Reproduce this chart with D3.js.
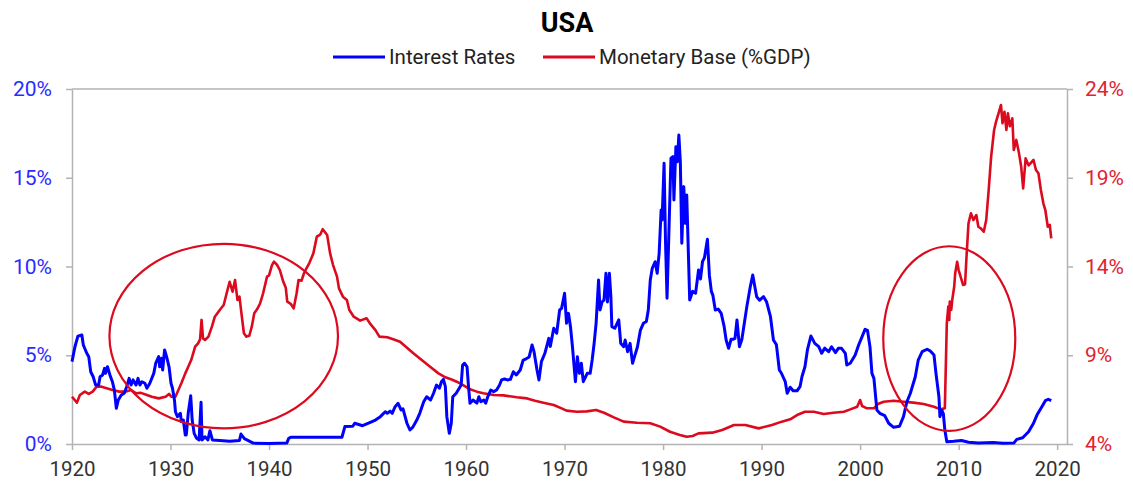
<!DOCTYPE html>
<html>
<head>
<meta charset="utf-8">
<script src="https://cdn.jsdelivr.net/npm/d3@7"></script>
<style>
  body { margin: 0; background: #fff; }
  text { font-family: Roboto, "Open Sans", sans-serif; }
</style>
</head>
<body>
<svg id="chart" width="1133" height="485"></svg>
<script>
// Interest rates, % (left axis)
const interestRates = [
  [1920.0,4.64],[1920.3,5.48],[1920.6,6.08],[1921.0,6.14],[1921.15,5.58],[1921.5,5.11],[1921.7,4.92],[1921.9,4.07],
  [1922.15,3.79],[1922.4,3.32],[1922.7,3.32],[1922.85,3.79],[1923.1,3.89],[1923.3,4.26],[1923.4,3.98],[1923.6,4.35],
  [1923.85,3.89],[1924.1,3.51],[1924.3,3.04],[1924.5,2.01],[1924.7,2.48],[1925.0,2.76],[1925.3,2.86],[1925.55,3.23],
  [1925.8,3.70],[1926.0,3.32],[1926.2,3.61],[1926.5,3.32],[1926.7,3.70],[1926.9,3.32],[1927.1,3.51],[1927.4,3.42],
  [1927.6,3.14],[1927.9,3.42],[1928.3,3.98],[1928.5,4.55],[1928.8,4.92],[1928.9,4.35],[1929.1,4.83],[1929.2,4.17],
  [1929.4,5.30],[1929.6,4.92],[1929.85,4.35],[1930.05,3.42],[1930.2,3.14],[1930.4,2.48],[1930.5,1.82],[1930.7,1.54],
  [1931.0,1.73],[1931.1,1.26],[1931.3,1.35],[1931.5,0.51],[1931.6,0.51],[1931.8,1.75],[1932.05,2.72],[1932.2,1.35],
  [1932.4,0.60],[1932.65,0.32],[1932.9,0.23],[1933.1,2.35],[1933.2,0.23],[1933.5,0.41],[1933.8,0.23],[1934.0,0.75],
  [1934.25,0.23],[1935.0,0.20],[1936.0,0.15],[1937.0,0.20],[1937.15,0.56],[1937.5,0.30],[1938.4,0.05],[1940.0,0.03],
  [1941.8,0.05],[1942.0,0.32],[1942.2,0.38],[1947.4,0.38],[1947.7,0.98],[1948.5,1.00],[1948.7,1.17],[1949.5,1.03],
  [1950.1,1.17],[1950.8,1.35],[1951.3,1.54],[1951.8,1.82],[1952.0,1.73],[1952.3,1.85],[1952.5,1.73],[1952.8,2.10],
  [1953.1,2.29],[1953.4,1.92],[1953.6,1.98],[1954.0,1.17],[1954.3,0.79],[1954.6,0.95],[1955.0,1.35],[1955.3,1.73],
  [1955.7,2.38],[1956.0,2.66],[1956.4,2.48],[1956.7,2.86],[1957.0,3.32],[1957.3,3.14],[1957.5,3.51],[1957.7,3.64],
  [1957.9,3.23],[1958.05,1.54],[1958.3,0.60],[1958.5,1.17],[1958.65,2.66],[1959.0,2.86],[1959.2,3.04],[1959.5,3.32],
  [1959.65,4.45],[1959.85,4.55],[1960.1,4.35],[1960.25,3.23],[1960.4,2.29],[1960.7,2.48],[1961.1,2.30],[1961.3,2.66],
  [1961.5,2.38],[1961.8,2.48],[1962.0,2.30],[1962.2,2.66],[1962.5,3.04],[1962.8,2.95],[1963.1,3.04],[1963.4,3.32],
  [1963.6,3.61],[1963.9,3.66],[1964.2,3.61],[1964.5,3.64],[1964.8,4.07],[1965.1,3.89],[1965.5,4.17],[1965.8,4.73],
  [1966.1,4.80],[1966.4,4.90],[1966.7,5.58],[1966.9,5.20],[1967.2,4.17],[1967.4,3.61],[1967.65,4.64],[1968.0,5.11],
  [1968.4,5.95],[1968.55,5.50],[1968.9,6.52],[1969.2,6.24],[1969.5,7.55],[1969.7,7.64],[1970.0,8.49],[1970.2,6.80],
  [1970.4,7.36],[1970.6,6.61],[1970.8,5.48],[1971.1,3.51],[1971.3,4.92],[1971.5,3.98],[1971.7,4.55],[1971.9,3.51],
  [1972.3,3.98],[1972.6,3.98],[1972.8,4.73],[1973.0,5.67],[1973.2,6.80],[1973.45,9.24],[1973.6,7.55],[1973.8,8.00],
  [1974.0,8.10],[1974.2,9.62],[1974.35,8.00],[1974.55,9.62],[1974.7,8.30],[1974.8,6.61],[1975.1,6.52],[1975.5,6.99],
  [1975.7,5.67],[1976.0,5.48],[1976.15,5.86],[1976.4,5.20],[1976.65,5.67],[1976.9,4.55],[1977.1,4.92],[1977.4,5.48],
  [1977.7,6.42],[1978.0,6.80],[1978.3,6.90],[1978.5,7.55],[1978.7,9.24],[1978.9,9.90],[1979.2,10.27],[1979.4,9.62],
  [1979.6,10.74],[1979.8,13.18],[1979.9,12.62],[1980.1,15.81],[1980.25,11.31],[1980.4,8.21],[1980.55,11.12],
  [1980.8,16.10],[1981.0,16.19],[1981.1,13.75],[1981.3,16.75],[1981.45,15.90],[1981.6,17.41],[1981.75,15.90],
  [1981.9,11.31],[1982.1,14.50],[1982.25,12.43],[1982.4,14.03],[1982.7,8.11],[1983.0,8.60],[1983.3,8.50],
  [1983.6,9.80],[1983.8,9.30],[1984.0,10.27],[1984.2,10.50],[1984.5,11.53],[1984.7,9.50],[1984.9,8.60],[1985.05,8.39],
  [1985.3,7.55],[1985.6,7.60],[1985.9,7.36],[1986.2,6.61],[1986.4,5.86],[1986.65,5.39],[1986.9,5.90],[1987.1,5.90],
  [1987.3,5.95],[1987.5,6.99],[1987.75,5.48],[1988.0,5.90],[1988.5,7.74],[1988.85,8.86],[1989.1,9.52],[1989.3,8.90],
  [1989.5,8.30],[1989.8,8.10],[1990.2,8.30],[1990.5,8.02],[1990.9,7.17],[1991.2,5.86],[1991.5,5.60],[1991.8,4.17],
  [1992.0,4.00],[1992.4,3.51],[1992.6,2.86],[1992.9,3.20],[1993.2,3.00],[1993.6,3.00],[1993.9,3.23],[1994.1,3.80],
  [1994.4,4.35],[1994.65,5.30],[1995.0,6.08],[1995.4,5.67],[1995.8,5.48],[1996.1,5.11],[1996.4,5.40],[1996.8,5.20],
  [1997.1,5.48],[1997.5,5.15],[1997.8,5.40],[1998.1,5.40],[1998.5,5.11],[1998.65,4.45],[1999.0,4.55],[1999.5,5.01],
  [1999.85,5.58],[2000.2,6.05],[2000.5,6.46],[2000.75,6.40],[2001.0,5.48],[2001.2,3.98],[2001.4,3.70],[2001.7,1.92],
  [2002.0,1.73],[2002.5,1.60],[2002.9,1.17],[2003.4,0.94],[2004.0,1.00],[2004.4,1.54],[2004.75,2.38],[2005.1,2.86],
  [2005.6,3.79],[2005.9,4.73],[2006.3,5.20],[2006.8,5.34],[2007.1,5.25],[2007.5,5.01],[2007.7,3.98],[2008.0,2.66],
  [2008.1,1.54],[2008.3,1.90],[2008.45,1.70],[2008.6,0.79],[2008.8,0.13],[2009.5,0.15],[2010.3,0.20],[2011.0,0.10],
  [2012.0,0.05],[2013.5,0.08],[2014.5,0.04],[2015.6,0.05],[2015.9,0.26],[2016.5,0.35],[2017.1,0.69],[2017.6,1.17],
  [2017.95,1.63],[2018.45,2.10],[2018.8,2.44],[2019.1,2.52],[2019.4,2.44]
];

// Monetary base, % of GDP (right axis)
const monetaryBase = [
  [1920.0,6.66],[1920.5,6.33],[1920.8,6.76],[1921.3,6.95],[1921.7,6.82],[1922.1,6.95],[1922.5,7.23],[1923.0,7.23],
  [1923.6,7.13],[1924.1,7.04],[1924.8,6.95],[1925.4,6.95],[1926.0,7.04],[1926.5,6.86],[1927.0,6.88],[1927.6,6.76],
  [1928.1,6.66],[1928.8,6.57],[1929.5,6.66],[1929.85,6.82],[1930.1,6.66],[1930.5,6.66],[1930.8,7.04],[1931.1,7.42],
  [1931.5,7.98],[1931.8,8.35],[1932.1,8.73],[1932.5,9.48],[1932.8,9.67],[1933.0,9.90],[1933.15,10.99],[1933.3,9.95],
  [1933.5,9.86],[1933.85,10.05],[1934.2,10.61],[1934.5,11.17],[1935.0,11.55],[1935.4,11.83],[1935.7,12.49],
  [1936.0,13.14],[1936.3,12.58],[1936.55,13.24],[1936.8,12.11],[1937.0,12.30],[1937.2,11.36],[1937.45,10.24],
  [1937.7,10.05],[1938.0,10.10],[1938.25,10.61],[1938.5,11.36],[1938.8,11.60],[1939.1,11.93],[1939.4,12.49],
  [1939.8,13.43],[1940.0,13.50],[1940.3,14.08],[1940.5,14.27],[1940.8,14.10],[1941.1,13.80],[1941.45,13.14],
  [1941.7,12.80],[1941.85,12.02],[1942.2,11.90],[1942.5,11.64],[1942.8,12.49],[1943.0,13.24],[1943.3,13.20],
  [1943.55,13.62],[1943.8,13.90],[1944.1,14.21],[1944.5,14.74],[1944.85,15.68],[1945.2,15.80],[1945.45,16.10],
  [1945.9,15.77],[1946.2,14.74],[1946.5,14.08],[1946.9,13.43],[1947.1,12.77],[1947.5,12.30],[1947.9,12.11],
  [1948.15,11.55],[1948.6,11.17],[1949.25,10.95],[1949.9,11.08],[1950.3,10.75],[1950.8,10.42],[1951.2,10.05],
  [1952.0,10.01],[1952.6,9.90],[1953.3,9.76],[1953.8,9.52],[1954.65,9.11],[1955.5,8.73],[1956.35,8.35],[1957.2,7.98],
  [1957.9,7.76],[1958.6,7.62],[1959.05,7.51],[1959.7,7.32],[1960.4,7.08],[1961.1,6.95],[1961.75,6.86],[1962.8,6.76],
  [1963.8,6.74],[1965.15,6.63],[1966.2,6.57],[1967.0,6.44],[1967.85,6.33],[1968.9,6.20],[1969.7,6.01],[1970.2,5.88],
  [1971.25,5.82],[1972.25,5.84],[1973.2,5.92],[1974.0,5.76],[1975.0,5.50],[1976.0,5.26],[1977.35,5.20],[1978.7,5.17],
  [1979.7,4.98],[1980.7,4.69],[1981.7,4.51],[1982.4,4.41],[1983.0,4.45],[1983.6,4.60],[1985.0,4.64],[1986.0,4.79],
  [1987.2,5.07],[1988.35,5.07],[1989.7,4.88],[1991.05,5.07],[1992.05,5.26],[1992.9,5.39],[1993.6,5.63],[1994.4,5.82],
  [1995.3,5.82],[1996.3,5.69],[1997.3,5.76],[1998.35,5.82],[1999.0,5.95],[1999.7,6.10],[2000.0,6.48],[2000.2,6.14],
  [2000.7,6.01],[2001.4,6.01],[2001.8,6.25],[2002.4,6.38],[2003.4,6.44],[2004.4,6.38],[2005.4,6.33],[2006.45,6.25],
  [2007.5,6.10],[2008.15,5.95],[2008.6,6.01],[2008.8,10.80],[2008.95,11.74],[2009.05,10.99],[2009.1,12.02],
  [2009.25,11.55],[2009.35,12.11],[2009.55,12.86],[2009.65,13.62],[2009.85,14.27],[2010.0,13.80],[2010.2,13.43],
  [2010.45,12.96],[2010.65,13.00],[2010.8,14.55],[2011.0,16.43],[2011.25,17.00],[2011.5,16.62],[2011.8,16.90],
  [2012.0,16.24],[2012.25,16.15],[2012.55,15.96],[2012.8,16.62],[2013.05,18.31],[2013.3,20.19],[2013.6,21.69],
  [2013.8,22.16],[2014.05,22.63],[2014.3,23.10],[2014.45,22.07],[2014.65,22.72],[2014.85,21.69],[2015.0,22.63],
  [2015.2,21.90],[2015.45,22.35],[2015.6,20.56],[2015.85,21.13],[2016.1,20.47],[2016.35,19.62],[2016.55,18.40],
  [2016.8,20.09],[2017.1,19.70],[2017.6,20.00],[2017.85,19.44],[2018.1,19.25],[2018.35,18.31],[2018.6,17.56],
  [2018.8,17.18],[2019.05,16.24],[2019.25,16.34],[2019.4,15.59]
];

const yearTicks = [1920, 1930, 1940, 1950, 1960, 1970, 1980, 1990, 2000, 2010, 2020];
const leftTicks = [0, 5, 10, 15, 20];
const rightTicks = [4, 9, 14, 19, 24];
const seriesNames = ['Interest Rates', 'Monetary Base (%GDP)'];

// annotation ellipses: centre (year, left-axis %), radii in years and %
const ellipses = [
  { year: 1935.4, value: 6.08, rYears: 11.6, rValue: 5.2 },
  { year: 2009.05, value: 5.94, rYears: 6.7, rValue: 5.2 }
];

const blue = '#0000ff';
const red = '#dc0a1e';
const grey = '#b3b3b3';

const svg = d3.select('#chart');
const margin = { top: 89, right: 66, bottom: 41, left: 72 };
const width = +svg.attr('width');
const height = +svg.attr('height');
const innerWidth = width - margin.left - margin.right;
const innerHeight = height - margin.top - margin.bottom;

const x = d3.scaleLinear().domain([1920, 2021]).range([0, innerWidth]);
const yLeft = d3.scaleLinear().domain([0, 20]).range([innerHeight, 0]);
const yRight = d3.scaleLinear().domain([4, 24]).range([innerHeight, 0]);

// title + legend
svg.append('text')
  .attr('x', 567).attr('y', 32)
  .attr('text-anchor', 'middle')
  .style('font-size', '27px').style('font-weight', 'bold')
  .text('USA');

const legend = svg.append('g');
const legendItems = [
  { name: seriesNames[0], color: blue, x: 333 },
  { name: seriesNames[1], color: red, x: 543 }
];
legendItems.forEach(d => {
  legend.append('line')
    .attr('x1', d.x).attr('x2', d.x + 52)
    .attr('y1', 57).attr('y2', 57)
    .attr('stroke', d.color).attr('stroke-width', 3);
  legend.append('text')
    .attr('x', d.x + 56).attr('y', 64)
    .style('font-size', '20.5px').attr('fill', '#222')
    .text(d.name);
});

const chart = svg.append('g')
  .attr('transform', `translate(${margin.left},${margin.top})`);

// frame
chart.append('line')
  .attr('x1', 0).attr('x2', innerWidth).attr('y1', 0).attr('y2', 0)
  .attr('stroke', grey).attr('stroke-width', 1.5);

const xAxis = d3.axisBottom(x).tickValues(yearTicks).tickFormat(d3.format('d'))
  .tickSizeInner(6).tickSizeOuter(0).tickPadding(11);
const xAxisG = chart.append('g')
  .attr('transform', `translate(0,${innerHeight})`)
  .call(xAxis);
xAxisG.selectAll('text').attr('fill', '#333').style('font-size', '20.5px');

const leftAxis = d3.axisLeft(yLeft).tickValues(leftTicks).tickFormat(d => d + '%')
  .tickSizeInner(6).tickSizeOuter(0).tickPadding(14);
const leftG = chart.append('g').call(leftAxis);
leftG.selectAll('text').attr('fill', '#2b2bff').style('font-size', '21px');

const rightAxis = d3.axisRight(yRight).tickValues(rightTicks).tickFormat(d => d + '%')
  .tickSizeInner(6).tickSizeOuter(0).tickPadding(12);
const rightG = chart.append('g')
  .attr('transform', `translate(${innerWidth},0)`)
  .call(rightAxis);
rightG.selectAll('text').attr('fill', '#e2222e').style('font-size', '21px');

[xAxisG, leftG, rightG].forEach(g => {
  g.selectAll('path, line').attr('stroke', grey).attr('stroke-width', 1.5);
  g.select('.domain').attr('stroke', grey);
});

// lines
const rateLine = d3.line().x(d => x(d[0])).y(d => yLeft(d[1]));
const baseLine = d3.line().x(d => x(d[0])).y(d => yRight(d[1]));

chart.append('path')
  .datum(monetaryBase)
  .attr('d', baseLine)
  .attr('fill', 'none').attr('stroke', red)
  .attr('stroke-width', 2.6).attr('stroke-linejoin', 'round');

chart.append('path')
  .datum(interestRates)
  .attr('d', rateLine)
  .attr('fill', 'none').attr('stroke', blue)
  .attr('stroke-width', 3).attr('stroke-linejoin', 'round');

// annotation ellipses
chart.selectAll('ellipse')
  .data(ellipses)
  .enter().append('ellipse')
  .attr('cx', d => x(d.year))
  .attr('cy', d => yLeft(d.value))
  .attr('rx', d => x(d.year + d.rYears) - x(d.year))
  .attr('ry', d => yLeft(0) - yLeft(d.rValue))
  .attr('fill', 'none').attr('stroke', red).attr('stroke-width', 2.2);
</script>
</body>
</html>
